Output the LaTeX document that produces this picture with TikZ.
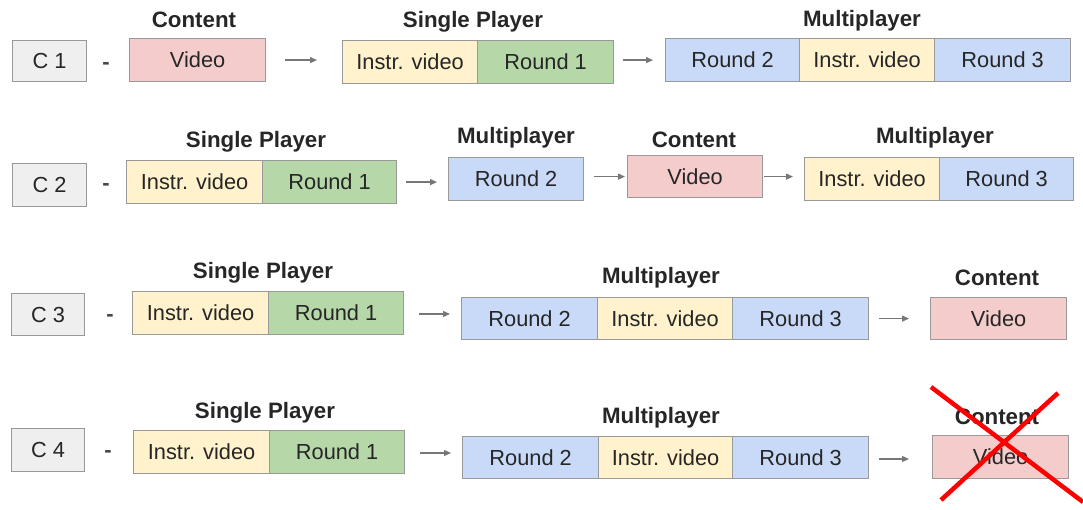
\documentclass[tikz,border=0pt]{standalone}
\usepackage{fontspec}
\setmainfont{Liberation Sans}
\usetikzlibrary{arrows.meta}
\definecolor{txt}{HTML}{262626}
\definecolor{bord}{HTML}{999999}
\definecolor{cgray}{HTML}{EFEFEF}
\definecolor{cpink}{HTML}{F4CCCC}
\definecolor{cyel}{HTML}{FFF2CC}
\definecolor{cgreen}{HTML}{B6D7A8}
\definecolor{cblue}{HTML}{C9DAF8}
\definecolor{arrgray}{HTML}{777777}
\definecolor{xred}{HTML}{FF0000}
\tikzset{
  box/.style={draw=bord, line width=1.2pt, inner sep=0pt, rectangle, text=txt,
    font=\fontsize{21.8}{24}\selectfont},
  lbl/.style={text=txt, inner sep=0pt, font=\fontsize{22.3}{24}\selectfont\bfseries},
  dashmark/.style={text=txt!85, inner sep=0pt, anchor=base, font=\fontsize{22}{24}\selectfont\bfseries},
  arr/.style={draw=arrgray, line width=1.2pt, -{Triangle[length=7pt,width=6pt]}},
  cross/.style={draw=xred, line width=4.5pt}
}
\newcommand\bx[7]{\node[box,fill=#2,minimum width={(#5-#3)*1pt},minimum height={(#6-#4)*1pt},anchor=north west] (#1) at (#3,#4) {#7};}
\begin{document}
\begin{tikzpicture}[x=1pt,y=-1pt]
\useasboundingbox (0,0) rectangle (1083,510);
% ---------------- Row 1
\bx{c1}{cgray}{12}{40}{86}{81}{C 1}
\node[dashmark] (d1) at (106,69.5) {-};
\bx{v1}{cpink}{129}{38}{265}{81}{Video}
\node[lbl] (l1a) at (194,20) {Content};
\bx{s1a}{cyel}{342}{40}{477}{83}{Instr. video}
\bx{s1b}{cgreen}{477}{40}{613}{83}{Round 1}
\node[lbl] (l1b) at (473,22) {Single Player};
\bx{m1a}{cblue}{665}{38}{799}{81}{Round 2}
\bx{m1b}{cyel}{799}{38}{934}{81}{Instr. video}
\bx{m1c}{cblue}{934}{38}{1070}{81}{Round 3}
\node[lbl] (l1c) at (862,21) {Multiplayer};
\draw[arr, shorten <=19pt, shorten >=25pt] (v1.east) -- (v1.east -| s1a.west);
\draw[arr, shorten <=9pt, shorten >=12pt] (s1b.east |- m1a.east) -- (m1a.west);
% ---------------- Row 2
\bx{c2}{cgray}{12}{163}{86}{206}{C 2}
\node[dashmark] (d2) at (106,190.5) {-};
\bx{s2a}{cyel}{126}{160}{262}{203}{Instr. video}
\bx{s2b}{cgreen}{262}{160}{396}{203}{Round 1}
\node[lbl] (l2a) at (256,142) {Single Player};
\bx{m2a}{cblue}{448}{157}{583}{200}{Round 2}
\node[lbl] (l2b) at (516,138) {Multiplayer};
\bx{v2}{cpink}{627}{155}{762}{197}{Video}
\node[lbl] (l2c) at (694,140) {Content};
\bx{m2b}{cyel}{804}{157}{939}{200}{Instr. video}
\bx{m2c}{cblue}{939}{157}{1073}{200}{Round 3}
\node[lbl] (l2d) at (935,138) {Multiplayer};
\draw[arr, shorten <=9pt, shorten >=11pt] (s2b.east) -- (s2b.east -| m2a.west);
\draw[arr, shorten <=10pt, shorten >=2pt] (m2a.east |- v2.east) -- (v2.west);
\draw[arr, shorten <=1pt, shorten >=11pt] (v2.east) -- (v2.east -| m2b.west);
% ---------------- Row 3
\bx{c3}{cgray}{11}{293}{84}{335}{C 3}
\node[dashmark] (d3) at (110,321.5) {-};
\bx{s3a}{cyel}{132}{291}{268}{334}{Instr. video}
\bx{s3b}{cgreen}{268}{291}{403}{334}{Round 1}
\node[lbl] (l3a) at (263,273) {Single Player};
\bx{m3a}{cblue}{461}{297}{597}{339}{Round 2}
\bx{m3b}{cyel}{597}{297}{732}{339}{Instr. video}
\bx{m3c}{cblue}{732}{297}{868}{339}{Round 3}
\node[lbl] (l3b) at (661,278) {Multiplayer};
\bx{v3}{cpink}{930}{297}{1066}{339}{Video}
\node[lbl] (l3c) at (997,278) {Content};
\draw[arr, shorten <=15pt, shorten >=11pt] (s3b.east |- 0,314) -- (m3a.west |- 0,314);
\draw[arr, shorten <=10pt, shorten >=21pt] (m3c.east) -- (v3.west);
% ---------------- Row 4
\bx{c4}{cgray}{11}{428}{84}{471}{C 4}
\node[dashmark] (d4) at (108,457.5) {-};
\bx{s4a}{cyel}{133}{430}{269}{473}{Instr. video}
\bx{s4b}{cgreen}{269}{430}{404}{473}{Round 1}
\node[lbl] (l4a) at (265,413) {Single Player};
\bx{m4a}{cblue}{462}{436}{598}{478}{Round 2}
\bx{m4b}{cyel}{598}{436}{732}{478}{Instr. video}
\bx{m4c}{cblue}{732}{436}{868}{478}{Round 3}
\node[lbl] (l4b) at (661,418) {Multiplayer};
\bx{v4}{cpink}{932}{435}{1068}{478}{Video}
\node[lbl] (l4c) at (997,417) {Content};
\draw[arr, shorten <=15pt, shorten >=11pt] (s4b.east |- 0,453) -- (m4a.west |- 0,453);
\draw[arr, shorten <=10pt, shorten >=23pt] (m4c.east |- 0,459) -- (v4.west |- 0,459);
% red cross
\coordinate (xa1) at (931,387);
\coordinate (xa2) at (1083,502);
\coordinate (xb1) at (1058,393);
\coordinate (xb2) at (941,500);
\draw[cross] (xa1) -- (xa2);
\draw[cross] (xb1) -- (xb2);
\end{tikzpicture}
\end{document}
